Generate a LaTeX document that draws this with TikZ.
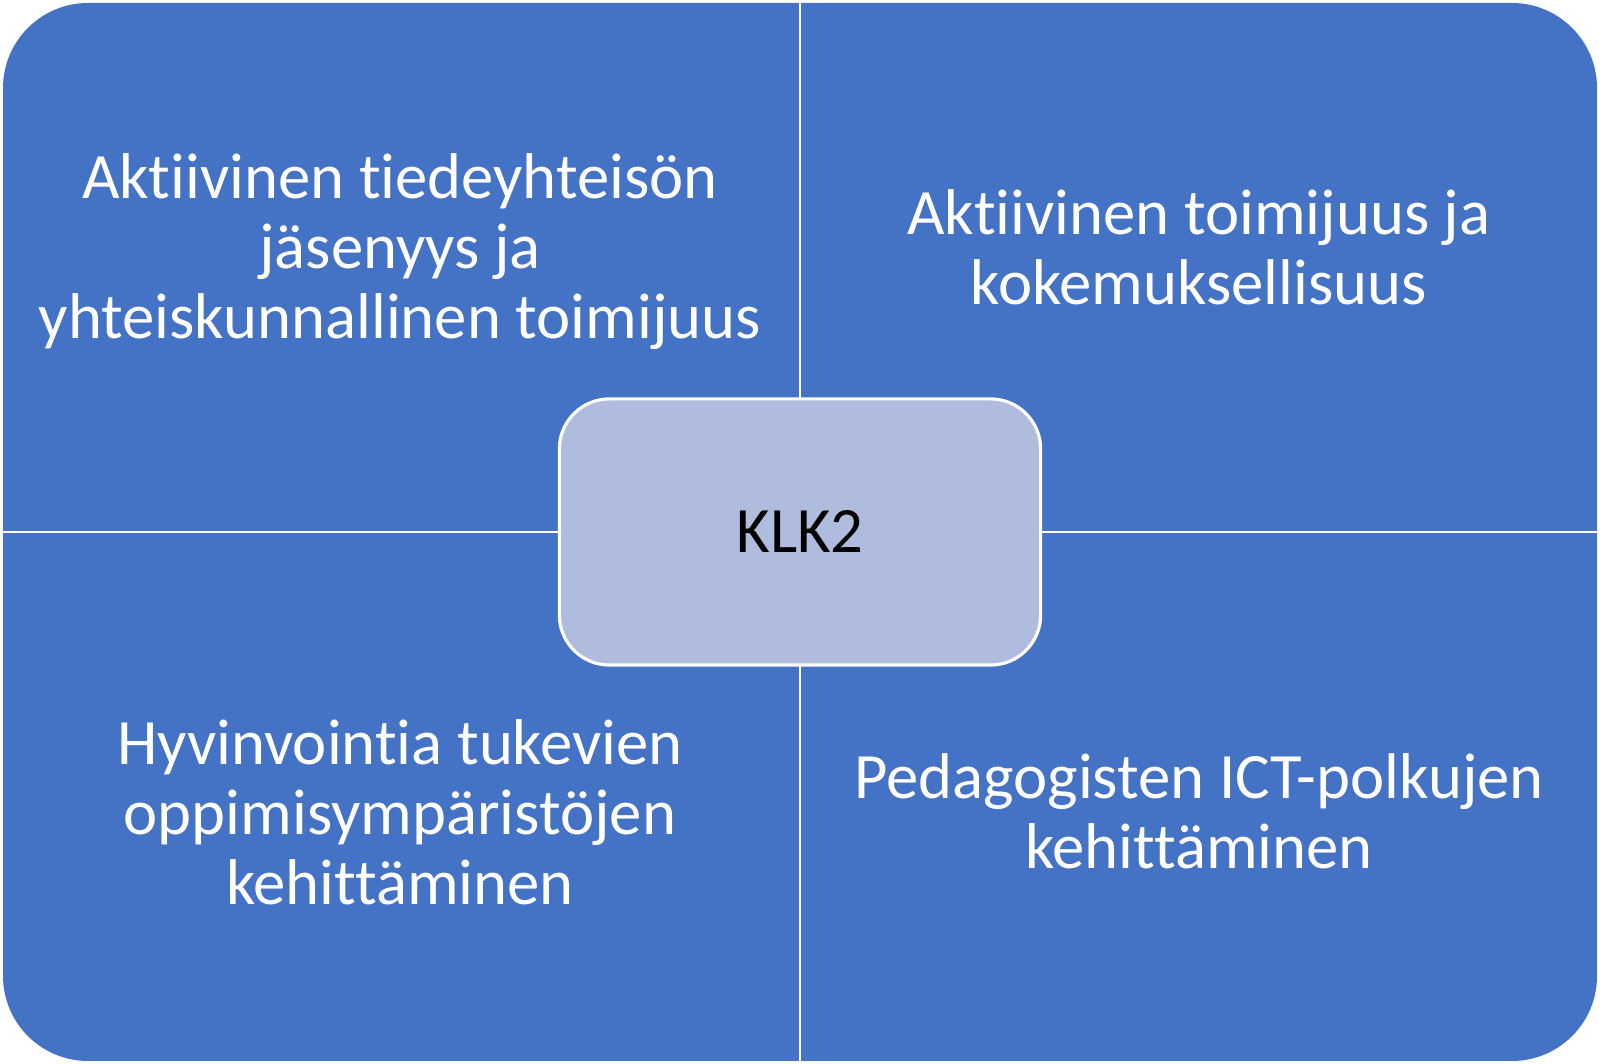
\documentclass[tikz,border=0pt]{standalone}
\usepackage{fontspec}
\setmainfont{Carlito}[Ligatures=NoCommon]
\definecolor{quadblue}{RGB}{68,114,196}
\definecolor{hubblue}{RGB}{176,188,222}
\tikzset{
  quadtext/.style={text=white, align=center, font=\fontsize{18.4}{19.9}\selectfont},
  hub/.style={draw=white, line width=0.9pt, fill=hubblue, rounded corners=0.5cm, minimum width=4.81cm, minimum height=2.66cm, font=\fontsize{18.4}{19.9}\selectfont},
  divider/.style={white, line width=0.7pt}
}
\begin{document}
\begin{tikzpicture}[x=0.01cm, y=0.01cm]
    \useasboundingbox (0,0) rectangle (1600,1064);
    \fill[quadblue, rounded corners=0.85cm] (3,3) rectangle (1597,1061);
    \coordinate (N) at (800,1061);
    \coordinate (S) at (800,3);
    \coordinate (W) at (3,532);
    \coordinate (E) at (1597,532);
    \draw[divider] (N) -- (S);
    \draw[divider] (W) -- (E);
    \node[hub] (klk) at (800,532) {KLK2};
    \node[quadtext] (tl) at (400,812) {Aktiivinen tiedeyhteisön\\jäsenyys ja\\yhteiskunnallinen toimijuus};
    \node[quadtext] (tr) at (1199,817) {Aktiivinen toimijuus ja\\kokemuksellisuus};
    \node[quadtext] (bl) at (400,252) {Hyvinvointia tukevien\\oppimisympäristöjen\\kehittäminen};
    \node[quadtext] (br) at (1199,253) {Pedagogisten ICT-polkujen\\kehittäminen};
\end{tikzpicture}
\end{document}
